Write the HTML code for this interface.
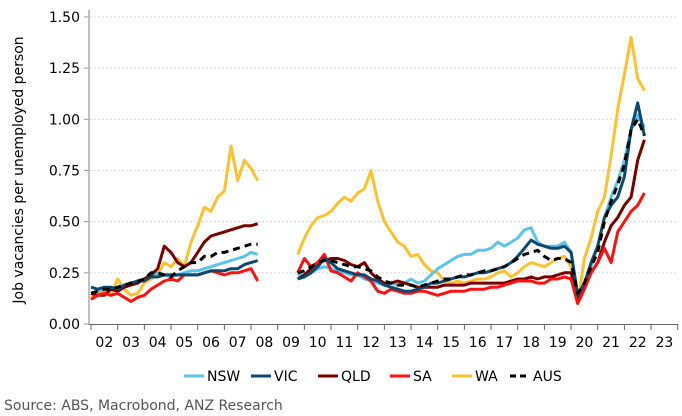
<!DOCTYPE html>
<html><head><meta charset="utf-8"><style>
html,body{margin:0;padding:0;background:#fff;width:682px;height:416px;overflow:hidden;font-family:"DejaVu Sans","Liberation Sans",sans-serif}
</style></head><body>
<svg id="chart" width="682" height="416" xmlns="http://www.w3.org/2000/svg" font-family="DejaVu Sans, Liberation Sans, sans-serif"></svg>
<script>
const years=["02","03","04","05","06","07","08","09","10","11","12","13","14","15","16","17","18","19","20","21","22","23"];
const yTicks=[0,0.25,0.5,0.75,1.0,1.25,1.5];
const N=null;
const AUS=[.15,.16,.17,.17,.18,.19,.20,.21,.22,.25,.25,.24,.23,.26,.28,.30,.30,.33,.33,.35,.35,.36,.37,.38,.39,.39,N,N,N,N,N,.25,.26,.28,.30,.31,.31,.30,.29,.28,.28,.27,.26,.23,.21,.20,.19,.19,.19,.18,.19,.20,.21,.22,.22,.23,.24,.24,.25,.26,.26,.27,.28,.30,.32,.34,.35,.36,.33,.31,.32,.32,.30,.15,.20,.28,.35,.50,.60,.68,.78,.95,1.0,.92];
const NSW=[.15,.16,.17,.17,.18,.19,.20,.21,.22,.24,.25,.24,.23,.24,.25,.26,.26,.27,.28,.29,.30,.31,.32,.33,.35,.34,N,N,N,N,N,.24,.24,.25,.27,.28,.27,.26,.25,.24,.24,.22,.21,.20,.19,.20,.19,.20,.22,.20,.21,.24,.27,.29,.31,.33,.34,.34,.36,.36,.37,.40,.38,.40,.42,.46,.47,.40,.38,.38,.38,.40,.35,.14,.20,.28,.38,.52,.62,.70,.80,.95,1.02,.96];
const VIC=[.18,.17,.18,.18,.17,.19,.20,.21,.21,.23,.23,.24,.24,.24,.24,.24,.24,.25,.26,.26,.26,.27,.27,.29,.30,.31,N,N,N,N,N,.22,.23,.25,.28,.32,.30,.27,.26,.25,.24,.24,.22,.21,.19,.18,.17,.16,.16,.17,.18,.20,.20,.21,.22,.23,.23,.24,.25,.25,.26,.27,.28,.30,.33,.37,.41,.39,.38,.37,.37,.38,.35,.14,.20,.30,.38,.52,.58,.62,.72,.95,1.08,.92];
const QLD=[.15,.14,.14,.17,.16,.18,.19,.20,.22,.24,.27,.38,.35,.30,.28,.30,.35,.40,.43,.44,.45,.46,.47,.48,.48,.49,N,N,N,N,N,.22,.24,.27,.30,.31,.32,.32,.31,.29,.28,.30,.25,.22,.20,.20,.21,.20,.19,.18,.18,.18,.18,.19,.19,.19,.19,.20,.20,.20,.20,.20,.20,.21,.22,.22,.23,.22,.23,.23,.24,.25,.25,.12,.18,.25,.30,.40,.48,.52,.58,.62,.80,.90];
const SA=[.12,.14,.15,.14,.15,.13,.11,.13,.14,.17,.19,.21,.22,.21,.24,.24,.24,.25,.26,.25,.24,.25,.25,.26,.27,.21,N,N,N,N,N,.25,.32,.28,.30,.34,.26,.25,.23,.21,.25,.23,.21,.16,.15,.17,.16,.15,.15,.16,.16,.15,.14,.15,.16,.16,.16,.17,.17,.17,.18,.18,.19,.20,.21,.21,.21,.20,.20,.22,.22,.23,.22,.10,.17,.25,.30,.37,.30,.45,.50,.55,.58,.64];
const WA=[.13,.15,.16,.14,.22,.17,.14,.15,.20,.22,.24,.30,.28,.32,.28,.40,.48,.57,.55,.62,.65,.87,.70,.80,.76,.70,N,N,N,N,N,.34,.42,.48,.52,.53,.55,.59,.62,.60,.64,.66,.75,.60,.50,.45,.40,.38,.33,.34,.29,.26,.25,.21,.20,.21,.20,.21,.22,.22,.23,.25,.26,.23,.25,.28,.30,.29,.28,.30,.32,.33,.28,.10,.32,.42,.55,.62,.82,1.05,1.22,1.40,1.20,1.14];

const svg=document.getElementById('chart');
const NS='http://www.w3.org/2000/svg';
const X0=91,XW=26.67,Y0=324,YS=204.7;
const xs=t=>X0+(t-2002)*XW;
const ys=v=>Y0-v*YS;
function mk(tag,attrs,parent){const e=document.createElementNS(NS,tag);for(const k in attrs)e.setAttribute(k,attrs[k]);(parent||svg).appendChild(e);return e;}

// gridlines & y ticks
yTicks.forEach(v=>{
  if(v>0){const g=mk('line',{x1:90,x2:678,y1:ys(v),y2:ys(v),stroke:'#d8d8d8','stroke-dasharray':'2,2','stroke-width':1});
  
  }
  const tk=mk('line',{x1:84,x2:89,y1:ys(v),y2:ys(v),stroke:'#999'});
  
  
  const t=mk('text',{x:80,y:ys(v)+5,'text-anchor':'end','font-size':14,fill:'#000'});
  t.textContent=v.toFixed(2);
  
  
});
const ya=mk('line',{x1:89,x2:89,y1:10,y2:325,stroke:'#aaa','stroke-width':1.5});


const xa=mk('line',{x1:89,x2:678,y1:324.5,y2:324.5,stroke:'#666','stroke-width':1});


for(let i=0;i<=years.length;i++){
  const tk=mk('line',{x1:xs(2002+i),x2:xs(2002+i),y1:324,y2:330,stroke:'#666'});
  
  
}
years.forEach((y,i)=>{
  const t=mk('text',{x:xs(2002.5+i),y:347,'text-anchor':'middle','font-size':14,fill:'#000'});
  t.textContent=y;
  
  
});
const yt=mk('text',{x:0,y:0,'font-size':14,'text-anchor':'middle',transform:'translate(23,170) rotate(-90)',fill:'#000'});
yt.textContent='Job vacancies per unemployed person';



const series=[
 {name:'nsw',data:NSW,color:'#5bc4ea',dash:null},
 {name:'vic',data:VIC,color:'#0b4a6e',dash:null},
 {name:'qld',data:QLD,color:'#7a0000',dash:null},
 {name:'sa',data:SA,color:'#ff1010',dash:null},
 {name:'wa',data:WA,color:'#fcc22e',dash:null},
 {name:'aus',data:AUS,color:'#000',dash:'7,5'}
];
const order=[4,0,2,3,1,5];
order.forEach(k=>{
  const s=series[k];let d='',pen=false;
  s.data.forEach((v,i)=>{
    if(v===null){pen=false;return;}
    d+=(pen?'L':'M')+xs(2002+i*0.25).toFixed(1)+' '+ys(v).toFixed(1);pen=true;
  });
  const p=mk('path',{d:d,fill:'none',stroke:s.color,'stroke-width':3,'stroke-linejoin':'round'});
  if(s.dash)p.setAttribute('stroke-dasharray',s.dash);
  
  
});

// legend
const leg=[['NSW','#5bc4ea',184],['VIC','#0b4a6e',251],['QLD','#7a0000',318],['SA','#ff1010',390],['WA','#fcc22e',452],['AUS','#000',510]];
leg.forEach(l=>{
  const g=mk('g',{});
  
  
  const ln=mk('line',{x1:l[2],x2:l[2]+20,y1:376,y2:376,stroke:l[1],'stroke-width':3},g);
  if(l[0]==='AUS')ln.setAttribute('stroke-dasharray','6,4');
  const t=mk('text',{x:l[2]+23,y:381,'font-size':14,fill:'#000'},g);
  t.textContent=l[0];
});
const src=mk('text',{x:4,y:410,'font-size':14,fill:'#555'});
src.textContent='Source: ABS, Macrobond, ANZ Research';


</script>
</body></html>
